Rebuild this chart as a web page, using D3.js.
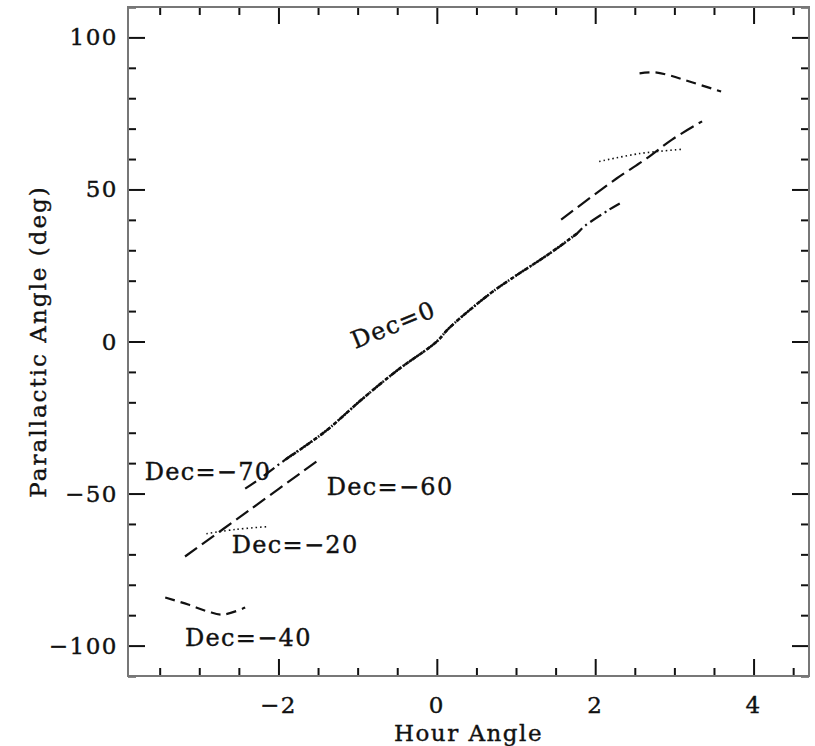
<!DOCTYPE html>
<html>
<head>
<meta charset="utf-8">
<script src="https://cdn.jsdelivr.net/npm/d3@7"></script>
<style>
  body { margin: 0; background: #fff; }
  text { font-family: 'DejaVu Serif', serif; fill: #111; stroke: #111; stroke-width: 0.4px; }
</style>
</head>
<body>
<div id="container"></div>
<script>
// Plot constants
var width = 815,
height = 746,
margin = { left: 128, right: 6, top: 7, bottom: 70 };

// Curves: [hour angle, parallactic angle]
var dec40Low = [[-3.43, -84.2], [-3.14, -86.5], [-2.89, -88.8], [-2.7, -89.8], [-2.42, -87.5]];
var dec40High = [[2.56, 88.2], [2.75, 88.5], [2.94, 87.5], [3.19, 85.5], [3.59, 82.2]];
var dec20Low = [[-2.91, -63.2], [-2.54, -61.8], [-2.15, -60.9]];
var dec20High = [[2.05, 59.2], [2.56, 61.8], [3.09, 63.2]];
var dec60Low = [[-3.18, -70.7], [-2.38, -55.7], [-1.47, -38.5]];
var dec60High = [[1.57, 40.1], [2.27, 53.6], [2.65, 60.2], [2.97, 66.4], [3.35, 72.4]];
var dec70 = [[-2.42, -48.4], [-2.25, -45.4], [-1.91, -38.8], [-1.41, -29.6], [-0.95, -19.1], [-0.5, -9.5],
  [0, 0], [0.15, 4.3], [0.66, 15.5], [0.95, 20.8], [1.4, 28.5], [1.77, 35.5], [1.86, 37.8], [2.18, 43.4], [2.31, 45.4]];
var dec0 = [[-1.91, -38.8], [-1.41, -29.6], [-0.95, -19.1], [-0.5, -9.5], [0, 0], [0.15, 4.3], [0.66, 15.5],
  [0.95, 20.8], [1.4, 28.5], [1.77, 35.5]];

var xTicksMajor = [-2, 0, 2, 4];
var yTicksMajor = [-100, -50, 0, 50, 100];

var labels = [
  { text: 'Dec=\u221270', ha: -3.69, pa: -45.5, rot: 0 },
  { text: 'Dec=\u221260', ha: -1.39, pa: -50.5, rot: 0 },
  { text: 'Dec=\u221220', ha: -2.59, pa: -69.5, rot: 0 },
  { text: 'Dec=\u221240', ha: -3.18, pa: -100, rot: 0 },
  { text: 'Dec=0', ha: -1.03, pa: -2.5, rot: -22 }
];

var svg = d3.select('#container').append('svg').attr('width', width).attr('height', height);

var x = d3.scaleLinear().domain([-3.9, 4.7]).range([margin.left, width - margin.right]);
var y = d3.scaleLinear().domain([-110, 110]).range([height - margin.bottom, margin.top]);

var x0 = x.range()[0], x1 = x.range()[1], y0 = y.range()[0], y1 = y.range()[1];

// ticks on all four sides, minor every 0.5 / 10
var xMinor = d3.range(-3.5, 4.75, 0.5).filter(t => xTicksMajor.indexOf(t) < 0);
var yMinor = d3.range(-110, 111, 10).filter(t => yTicksMajor.indexOf(t) < 0);

function drawTicks(major, len) {
  var g = svg.append('g');
  [[d3.axisTop(x), y0], [d3.axisBottom(x), y1]].forEach(function (a) {
    g.append('g').attr('transform', 'translate(0,' + a[1] + ')')
      .call(a[0].tickValues(major ? xTicksMajor : xMinor).tickSize(len).tickFormat(''))
      .call(s => s.select('.domain').remove());
  });
  [[d3.axisRight(y), x0], [d3.axisLeft(y), x1]].forEach(function (a) {
    g.append('g').attr('transform', 'translate(' + a[1] + ',0)')
      .call(a[0].tickValues(major ? yTicksMajor : yMinor).tickSize(len).tickFormat(''))
      .call(s => s.select('.domain').remove());
  });
  g.selectAll('line').attr('stroke', '#111').attr('stroke-width', 2);
}
drawTicks(true, 17);
drawTicks(false, 8);

// frame
svg.append('rect')
  .attr('x', x0).attr('y', y1)
  .attr('width', x1 - x0).attr('height', y0 - y1)
  .attr('fill', 'none').attr('stroke', '#777').attr('stroke-width', 2);

// tick labels
svg.append('g').selectAll('text').data(xTicksMajor).enter().append('text')
  .attr('x', d => x(d)).attr('y', y0 + 37)
  .attr('text-anchor', 'middle').style('font-size', '23px').style('letter-spacing', '1.5px')
  .text(d => d3.format('d')(d));

svg.append('g').selectAll('text').data(yTicksMajor).enter().append('text')
  .attr('x', x0 - 10).attr('y', d => y(d) + 8)
  .attr('text-anchor', 'end').style('font-size', '23px').style('letter-spacing', '1.5px')
  .text(d => d3.format('d')(d));

// axis titles
svg.append('text')
  .attr('x', (x0 + x1) / 2).attr('y', height - 5)
  .attr('text-anchor', 'middle').style('font-size', '23px').style('letter-spacing', '1.5px')
  .text('Hour Angle');

svg.append('text')
  .attr('transform', 'translate(46,' + (y0 + y1) / 2 + ') rotate(-90)')
  .attr('text-anchor', 'middle').style('font-size', '23px').style('letter-spacing', '2px')
  .text('Parallactic Angle (deg)');

// curves
var line = d3.line().x(d => x(d[0])).y(d => y(d[1])).curve(d3.curveCatmullRom);

var curves = [
  { data: dec40Low, dash: '10,6', w: 2.2 },
  { data: dec40High, dash: '10,6', w: 2.2 },
  { data: dec20Low, dash: '1.5,3', w: 1.6 },
  { data: dec20High, dash: '1.5,3', w: 1.6 },
  { data: dec60Low, dash: '15,6', w: 2.2 },
  { data: dec60High, dash: '15,6', w: 2.2 },
  { data: dec70, dash: '13,4,2,4', w: 2.2 },
  { data: dec0, dash: '4,1.5,1.5,1.5', w: 2.6 }
];

svg.append('g').selectAll('path').data(curves).enter().append('path')
  .attr('d', d => line(d.data))
  .attr('fill', 'none')
  .attr('stroke', '#111')
  .attr('stroke-width', d => d.w)
  .attr('stroke-dasharray', d => d.dash);

// curve labels
svg.append('g').selectAll('text').data(labels).enter().append('text')
  .attr('transform', d => 'translate(' + x(d.ha) + ',' + y(d.pa) + ') rotate(' + d.rot + ')')
  .style('font-size', '24px').style('letter-spacing', '1.3px')
  .text(d => d.text);
</script>
</body>
</html>
